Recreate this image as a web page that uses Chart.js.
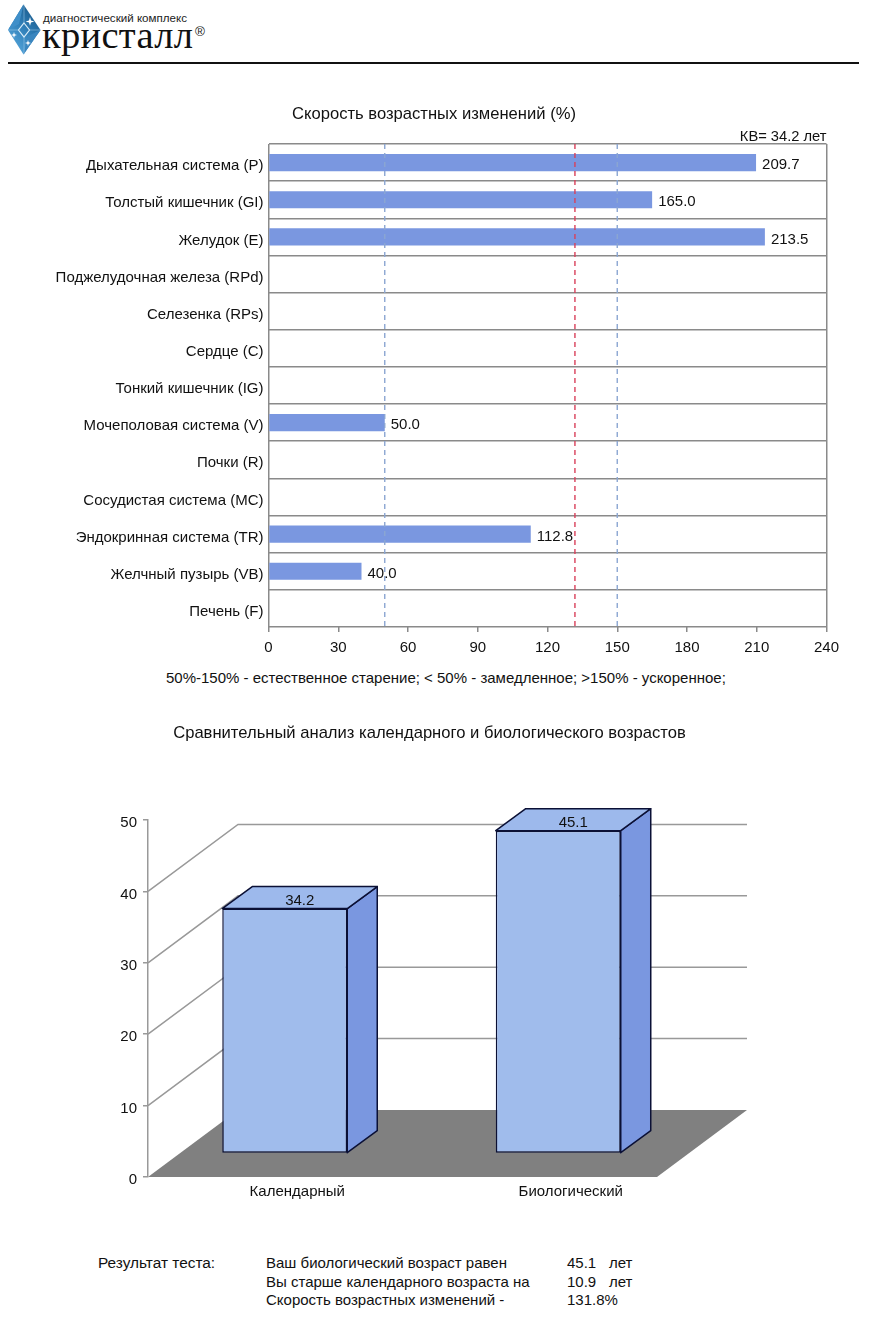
<!DOCTYPE html>
<html lang="ru">
<head>
<meta charset="utf-8">
<title>Кристалл</title>
<script src="https://cdn.jsdelivr.net/npm/chart.js@4"></script>
<style>
html,body{margin:0;padding:0;background:#fff;}
body{position:relative;width:886px;height:1320px;overflow:hidden;font-family:"Liberation Sans",Arial,sans-serif;color:#111;}
canvas{position:absolute;display:block;}
.t{position:absolute;white-space:nowrap;line-height:18px;font-size:15px;}
#rule{position:absolute;left:8px;top:62px;width:851px;height:1.5px;background:#111;}
</style>
</head>
<body>
<svg width="60" height="60" style="position:absolute;left:0;top:0" viewBox="0 0 60 60">
  <defs>
    <linearGradient id="g" x1="0.9" y1="0" x2="0.2" y2="1">
      <stop offset="0" stop-color="#15507f"/><stop offset="0.5" stop-color="#2f7fb8"/><stop offset="1" stop-color="#58a9de"/>
    </linearGradient>
  </defs>
  <path d="M23.5 4.5 L40.5 30 L23.5 54.5 L8 30 Z" fill="url(#g)"/>
  <path d="M23.5 4.5 L8 30 L19 24 Z" fill="#3f8fc9"/>
  <path d="M23.5 54.5 L40.5 30 L28 36 Z" fill="#3a86bf"/>
  <path d="M24 23 L29.5 30 L24 37 L18.5 30 Z" fill="none" stroke="#d8ecf8" stroke-width="1.2"/>
  <path d="M8 30 H18.5 M29.5 30 H40.5 M24 4.5 V23 M24 37 V54" stroke="#a8d0ec" stroke-width="0.5" fill="none"/>
  <path d="M30 17 l1 3.4 l3.4 1 l-3.4 1 l-1 3.4 l-1 -3.4 l-3.4 -1 l3.4 -1 Z M14 32 l.7 2.3 l2.3 .7 l-2.3 .7 l-.7 2.3 l-.7 -2.3 l-2.3 -.7 l2.3 -.7 Z M28 40 l.7 2.3 l2.3 .7 l-2.3 .7 l-.7 2.3 l-.7 -2.3 l-2.3 -.7 l2.3 -.7 Z" fill="#fff"/>
</svg>
<div class="t" style="left:43px;top:9px;font-size:11.6px;color:#222;">диагностический комплекс</div>
<div class="t" style="left:42px;top:14px;font-family:'Liberation Serif',serif;font-size:38.5px;line-height:42px;letter-spacing:0.3px;color:#111;">кристалл</div>
<div class="t" style="left:195px;top:23px;font-size:13.5px;color:#222;">®</div>
<div id="rule"></div>

<canvas id="speedChart" width="886" height="565" style="left:0;top:100px;width:886px;height:565px;"></canvas>
<div class="t" style="left:166px;top:669px;">50%-150% - естественное старение; &lt; 50% - замедленное; &gt;150% - ускоренное;</div>
<canvas id="ageChart" width="859" height="500" style="left:0;top:715px;width:859px;height:500px;"></canvas>

<div class="t" style="left:98px;top:1254px;font-size:15.4px;">Результат теста:</div>
<div class="t" style="left:266px;top:1254px;">Ваш биологический возраст равен</div>
<div class="t" style="left:567px;top:1254px;">45.1</div>
<div class="t" style="left:609px;top:1254px;">лет</div>
<div class="t" style="left:266px;top:1273px;">Вы старше календарного возраста на</div>
<div class="t" style="left:567px;top:1273px;">10.9</div>
<div class="t" style="left:609px;top:1273px;">лет</div>
<div class="t" style="left:266px;top:1291px;">Скорость возрастных изменений -</div>
<div class="t" style="left:567px;top:1291px;">131.8%</div>

<script>
const organs = ["Дыхательная система (P)","Толстый кишечник (GI)","Желудок (E)","Поджелудочная железа (RPd)","Селезенка (RPs)","Сердце (C)","Тонкий кишечник (IG)","Мочеполовая система (V)","Почки (R)","Сосудистая система (MC)","Эндокринная система (TR)","Желчный пузырь (VB)","Печень (F)"];
const speedValues = [209.7,165.0,213.5,null,null,null,null,50.0,null,null,112.8,40.0,null];
const speedTitle = "Скорость возрастных изменений (%)";
const kvLabel = "КВ= 34.2 лет";
const normalBounds = [50,150];
const actualSpeed = [131.8];
const ageCategories = ["Календарный","Биологический"];
const ageValues = [34.2,45.1];
const ageTitle = "Сравнительный анализ календарного и биологического возрастов";

const FONT = '"Liberation Sans", Arial, sans-serif';
const TEXT = '#111';
const GREY = '#8a8a8a';
Chart.defaults.animation = false;
Chart.defaults.font.family = FONT;
Chart.defaults.color = TEXT;

const speedOverlay = {
  id:'speedOverlay',
  afterDatasetsDraw(chart){
    const {ctx,chartArea:a,scales:{x}} = chart;
    ctx.save();
    ctx.lineWidth = 1.4;
    ctx.setLineDash([5,4]);
    const line = (v,c)=>{const p=x.getPixelForValue(v);ctx.strokeStyle=c;ctx.beginPath();ctx.moveTo(p,a.top);ctx.lineTo(p,a.bottom);ctx.stroke();};
    normalBounds.forEach(v=>line(v,'#8ba6d2'));
    actualSpeed.forEach(v=>line(v,'#d9405a'));
    ctx.setLineDash([]);
    ctx.fillStyle = TEXT;
    ctx.font = '15px '+FONT;
    ctx.textBaseline = 'middle';
    ctx.textAlign = 'left';
    chart.getDatasetMeta(0).data.forEach((el,i)=>{
      const v = speedValues[i];
      if(v===null) return;
      ctx.fillText(v.toFixed(1), el.x+6, el.y+2.5);
    });
    ctx.textAlign = 'right';
    ctx.font = '14.7px '+FONT;
    ctx.fillText(kvLabel, a.right, a.top-7);
    ctx.restore();
  }
};

new Chart(document.getElementById('speedChart'),{
  type:'bar',
  data:{labels:organs,datasets:[{data:speedValues,backgroundColor:'#7a97e0',borderWidth:0,categoryPercentage:1,barPercentage:0.46}]},
  options:{
    indexAxis:'y',responsive:false,
    layout:{padding:{left:41.5,right:59.5,top:0,bottom:0}},
    plugins:{legend:{display:false},tooltip:{enabled:false},
      title:{display:true,text:speedTitle,font:{size:16.6,weight:'normal'},color:TEXT,padding:{top:4.5,bottom:19.6}}},
    scales:{
      x:{min:0,max:240,ticks:{stepSize:30,font:{size:15},padding:7,maxRotation:0},
         afterFit(s){s.height=38;},
         border:{display:false},
         grid:{drawTicks:true,tickLength:5,tickColor:GREY,lineWidth:1.5,
               color:c=>(c.tick&&(c.tick.value===0||c.tick.value===240))?GREY:'rgba(0,0,0,0)'}},
      y:{ticks:{font:{size:15},padding:5,labelOffset:3.5,autoSkip:false},
         afterFit(s){s.width=227;},
         border:{display:false},
         grid:{drawTicks:false,color:GREY,lineWidth:1.6}}
    }
  },
  plugins:[speedOverlay]
});

const DEPTH_X = 90, DEPTH_Y = 67;
const BAR_DX = 30, BAR_DY = 22;
const FLOOR_W = 509;
const ageBox = {
  id:'ageBox',
  beforeDatasetsDraw(chart){
    const {ctx,scales:{x,y}} = chart;
    const y0 = y.getPixelForValue(0), l = x.left;
    ctx.save();
    ctx.fillStyle = '#808080';
    ctx.beginPath();
    ctx.moveTo(l,y0);ctx.lineTo(l+DEPTH_X,y0-DEPTH_Y);ctx.lineTo(l+DEPTH_X+FLOOR_W,y0-DEPTH_Y);ctx.lineTo(l+FLOOR_W,y0);ctx.closePath();ctx.fill();
    ctx.strokeStyle = '#999';
    ctx.lineWidth = 1.5;
    y.ticks.forEach(t=>{
      if(t.value===0||t.value===50) return;
      const p = y.getPixelForValue(t.value);
      ctx.beginPath();ctx.moveTo(l,p);ctx.lineTo(l+DEPTH_X,p-DEPTH_Y);ctx.lineTo(l+DEPTH_X+FLOOR_W,p-DEPTH_Y);ctx.stroke();
    });
    ctx.restore();
  },
  afterDatasetsDraw(chart){
    const {ctx} = chart;
    ctx.save();
    ctx.lineWidth = 1.5;
    ctx.strokeStyle = '#0b1035';
    ctx.lineJoin = 'round';
    chart.getDatasetMeta(0).data.forEach((el,i)=>{
      const hw = el.width/2, L = el.x-hw, R = el.x+hw, T = el.y, B = el.base;
      ctx.fillStyle = '#7a97e0';
      ctx.beginPath();ctx.moveTo(R,T);ctx.lineTo(R+BAR_DX,T-BAR_DY);ctx.lineTo(R+BAR_DX,B-BAR_DY);ctx.lineTo(R,B);ctx.closePath();ctx.fill();ctx.stroke();
      ctx.fillStyle = '#9db9ec';
      ctx.beginPath();ctx.moveTo(L,T);ctx.lineTo(L+BAR_DX,T-BAR_DY);ctx.lineTo(R+BAR_DX,T-BAR_DY);ctx.lineTo(R,T);ctx.closePath();ctx.fill();ctx.stroke();
      ctx.fillStyle = TEXT;
      ctx.font = '15px '+FONT;
      ctx.textAlign = 'center';
      ctx.textBaseline = 'middle';
      ctx.fillText(ageValues[i].toFixed(1), el.x+BAR_DX/2, T-BAR_DY/2+3);
    });
    ctx.restore();
  }
};

new Chart(document.getElementById('ageChart'),{
  type:'bar',
  data:{labels:ageCategories,datasets:[{data:ageValues,yAxisID:'yBar',backgroundColor:'#a0bcec',borderColor:'#0b1035',borderWidth:1.5,borderSkipped:false,categoryPercentage:1,barPercentage:0.457}]},
  options:{
    responsive:false,
    layout:{padding:{left:0,right:0,top:0,bottom:0}},
    plugins:{legend:{display:false},tooltip:{enabled:false},
      title:{display:true,text:ageTitle,font:{size:16.6,weight:'normal'},color:TEXT,padding:{top:8.4,bottom:76.7}}},
    scales:{
      x:{ticks:{font:{size:15},padding:6,labelOffset:12.5,maxRotation:0},
         afterFit(s){s.height=38;},
         border:{display:false},grid:{display:false,drawTicks:false}},
      y:{min:0,max:50,ticks:{stepSize:10,font:{size:15},padding:6,labelOffset:3},
         afterFit(s){s.width=148;},
         border:{display:true,color:'#999',width:1.5},
         grid:{drawOnChartArea:false,tickLength:5,tickColor:'#999',lineWidth:1.5}},
      yBar:{position:'right',min:-3.4,max:46.6,
         ticks:{display:false},border:{display:false},grid:{display:false,drawTicks:false},
         afterFit(s){s.width=164;}}
    }
  },
  plugins:[ageBox]
});
</script>
</body>
</html>
